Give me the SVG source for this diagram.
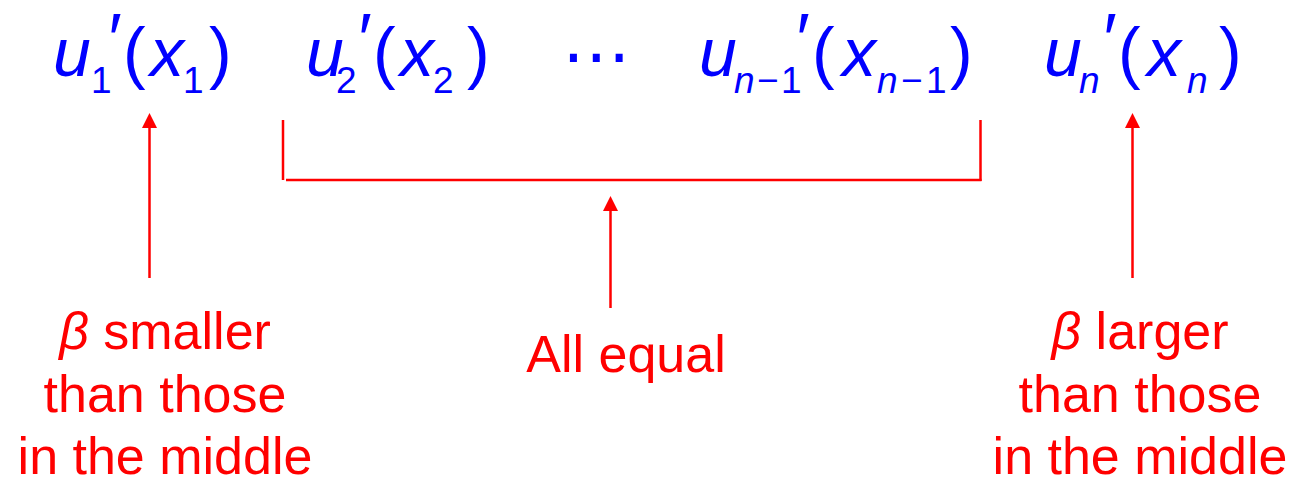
<svg xmlns="http://www.w3.org/2000/svg" width="1294" height="479" viewBox="0 0 1294 479">
<style>
.m{font-family:"Liberation Sans",Arial,sans-serif;fill:#0000FF;font-size:68px}
.s{font-size:37px}
.i{font-style:italic}
.pr{font-size:72px;font-style:italic}
.lbl{font-family:"Liberation Sans",Arial,sans-serif;fill:#FF0000;font-size:52px;text-anchor:middle}
.ln{stroke:#FF0000;stroke-width:2.5;fill:none}
.ah{fill:#FF0000}
</style>
<rect width="1294" height="479" fill="#FFFFFF"/>
<g id="u1">
<text class="m"><tspan class="i" x="53" y="76">u</tspan><tspan class="s" x="91" y="93">1</tspan><tspan class="pr" x="105" y="64">′</tspan><tspan x="123" y="76">(</tspan><tspan class="i" x="150" y="76">x</tspan><tspan class="s" x="183" y="93">1</tspan><tspan x="209" y="76">)</tspan></text>
</g>
<g id="u2">
<text class="m"><tspan class="i" x="306" y="76">u</tspan><tspan class="s" x="336" y="93">2</tspan><tspan class="pr" x="355" y="64">′</tspan><tspan x="373" y="76">(</tspan><tspan class="i" x="400" y="76">x</tspan><tspan class="s" x="433" y="93">2</tspan><tspan x="467" y="76">)</tspan></text>
</g>
<g id="dots">
<text x="596" y="79" style="font-family:'DejaVu Sans',sans-serif;font-size:68px;fill:#0000FF;text-anchor:middle">⋯</text>
</g>
<g id="un1">
<text class="m"><tspan class="i" x="699" y="76">u</tspan><tspan class="s i" x="734" y="93">n</tspan><tspan class="s" x="757" y="93">−</tspan><tspan class="s" x="781" y="93">1</tspan><tspan class="pr" x="793" y="64">′</tspan><tspan x="812" y="76">(</tspan><tspan class="i" x="842" y="76">x</tspan><tspan class="s i" x="877" y="93">n</tspan><tspan class="s" x="901" y="93">−</tspan><tspan class="s" x="926" y="93">1</tspan><tspan x="950" y="76">)</tspan></text>
</g>
<g id="un">
<text class="m"><tspan class="i" x="1044" y="76">u</tspan><tspan class="s i" x="1079" y="93">n</tspan><tspan class="pr" x="1100" y="64">′</tspan><tspan x="1118" y="76">(</tspan><tspan class="i" x="1147" y="76">x</tspan><tspan class="s i" x="1187" y="93">n</tspan><tspan x="1219" y="76">)</tspan></text>
</g>
<g id="connectors">
<line class="ln" x1="149.5" y1="278" x2="149.5" y2="126"/>
<polygon class="ah" points="149.5,113 142,128 157,128"/>
<line class="ln" x1="283" y1="120" x2="283" y2="180"/>
<line class="ln" x1="286" y1="180" x2="981.5" y2="180"/>
<line class="ln" x1="980.5" y1="120" x2="980.5" y2="181"/>
<line class="ln" x1="610.5" y1="308" x2="610.5" y2="209"/>
<polygon class="ah" points="610.5,196 603,211 618,211"/>
<line class="ln" x1="1132.5" y1="278" x2="1132.5" y2="126"/>
<polygon class="ah" points="1132.5,113 1125,128 1140,128"/>
</g>
<g id="label-left">
<text class="lbl" x="165" y="349"><tspan class="i">β</tspan> smaller</text>
<text class="lbl" x="165" y="412">than those</text>
<text class="lbl" x="165" y="474">in the middle</text>
</g>
<g id="label-center">
<text class="lbl" x="626" y="372">All equal</text>
</g>
<g id="label-right">
<text class="lbl" x="1140" y="349"><tspan class="i">β</tspan> larger</text>
<text class="lbl" x="1140" y="412">than those</text>
<text class="lbl" x="1140" y="474">in the middle</text>
</g>
</svg>
